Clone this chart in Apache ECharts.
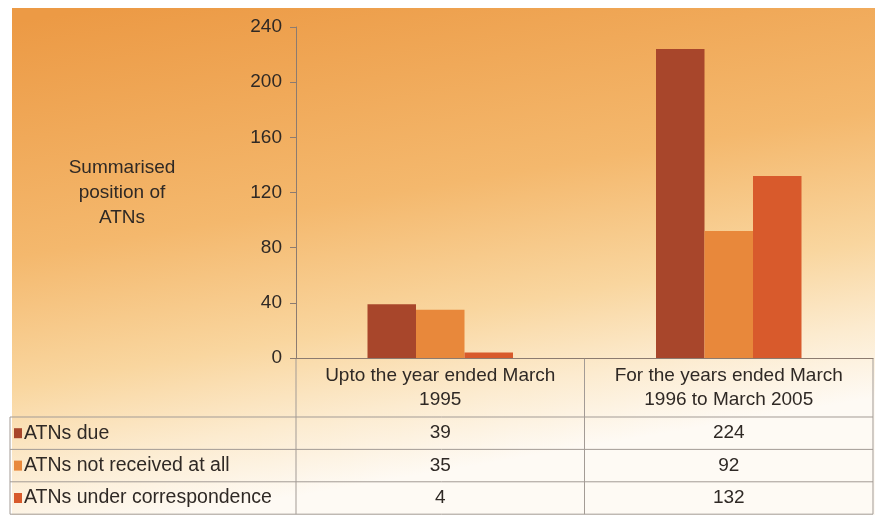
<!DOCTYPE html>
<html>
<head>
<meta charset="utf-8">
<script src="https://cdn.jsdelivr.net/npm/echarts@6/dist/echarts.min.js"></script>
<style>
html,body{margin:0;padding:0;background:#ffffff;}
#chart{width:879px;height:526px;}
</style>
</head>
<body>
<div id="chart"></div>
<script>
// ---- data ----
var categories = ["Upto the year ended March\n1995", "For the years ended March\n1996 to March 2005"];
var seriesNames = ["ATNs due", "ATNs not received at all", "ATNs under correspondence"];
var atnsDue = [39, 224];
var atnsNotReceived = [35, 92];
var atnsUnderCorrespondence = [4, 132];
var yTicks = [0, 40, 80, 120, 160, 200, 240];
var yAxisTitle = "Summarised\nposition of\nATNs";

var colors = ["#A8462B", "#E8883B", "#D85A2C"];
var seriesData = [atnsDue, atnsNotReceived, atnsUnderCorrespondence];

var FONT = "Liberation Sans, Arial, sans-serif";
var TXT = "#2f2925";
var LINE = "#a39b95";

var chart = echarts.init(document.getElementById('chart'));

var option = {
  animation: false,
  grid: {left: 296, right: 6, top: 27, bottom: 168},
  xAxis: {
    type: 'category',
    data: categories,
    axisLine: {show: true, lineStyle: {color: '#8c7b70', width: 1}},
    axisTick: {show: false},
    axisLabel: {fontFamily: FONT, fontSize: 19, lineHeight: 24, color: TXT, margin: 6, interval: 0}
  },
  yAxis: {
    type: 'value',
    min: yTicks[0],
    max: yTicks[yTicks.length - 1],
    interval: yTicks[1] - yTicks[0],
    axisLine: {show: true, lineStyle: {color: '#8c7b70', width: 1}},
    axisTick: {show: true, length: 6, lineStyle: {color: '#8c7b70'}},
    axisLabel: {fontFamily: FONT, fontSize: 19, color: TXT, margin: 14},
    splitLine: {show: false}
  },
  series: seriesNames.map(function (n, i) {
    return {
      name: n,
      type: 'bar',
      data: seriesData[i],
      barWidth: 48.5,
      barGap: '0%',
      itemStyle: {color: colors[i]}
    };
  })
};
chart.setOption(option);

// ---- background + data table drawn from the arrays ----
var c0 = chart.convertToPixel({xAxisIndex: 0}, 0);
var c1 = chart.convertToPixel({xAxisIndex: 0}, 1);
var half = (c1 - c0) / 2;
var axisLeft = c0 - half, mid = c0 + half, axisRight = c1 + half;
var yZero = chart.convertToPixel({yAxisIndex: 0}, 0);
var tableTop = 417, rowH = 32.4, tableLeft = 10;
var tableBottom = tableTop + rowH * 3;
var colCenters = [c0, c1];

var g = [];
g.push({
  type: 'rect', z: -10, silent: true,
  shape: {x: 12, y: 8, width: 863, height: 507},
  style: {fill: new echarts.graphic.LinearGradient(0.1, 0, 0.2, 1, [
    {offset: 0, color: '#EC9A45'},
    {offset: 0.45, color: '#F4B86D'},
    {offset: 0.7, color: '#F9D69F'},
    {offset: 0.86, color: '#FCEBCF'},
    {offset: 1, color: '#FEFAF4'}
  ])}
});
// y axis title
g.push({
  type: 'text', silent: true,
  style: {text: yAxisTitle, x: 122, y: 193, align: 'center', verticalAlign: 'middle',
    font: '19px ' + FONT, fill: TXT, lineHeight: 25}
});
// table lines
function line(x1, y1, x2, y2) {
  g.push({type: 'line', silent: true, shape: {x1: x1, y1: y1, x2: x2, y2: y2},
    style: {stroke: LINE, lineWidth: 1}});
}
[axisLeft, mid, axisRight].forEach(function (x) { line(x, yZero, x, tableBottom); });
line(tableLeft, tableTop, tableLeft, tableBottom);
for (var r = 0; r <= 3; r++) {
  line(tableLeft, tableTop + r * rowH, axisRight, tableTop + r * rowH);
}
seriesNames.forEach(function (n, i) {
  var cy = tableTop + rowH * (i + 0.5);
  g.push({type: 'rect', silent: true, shape: {x: 14, y: cy - 5, width: 8, height: 10},
    style: {fill: colors[i]}});
  g.push({type: 'text', silent: true,
    style: {text: n, x: 24, y: cy, align: 'left', verticalAlign: 'middle',
      font: '19.5px ' + FONT, fill: TXT}});
  seriesData[i].forEach(function (v, j) {
    g.push({type: 'text', silent: true,
      style: {text: String(v), x: colCenters[j], y: cy, align: 'center', verticalAlign: 'middle',
        font: '19px ' + FONT, fill: TXT}});
  });
});
chart.setOption({graphic: g});
</script>
</body>
</html>
